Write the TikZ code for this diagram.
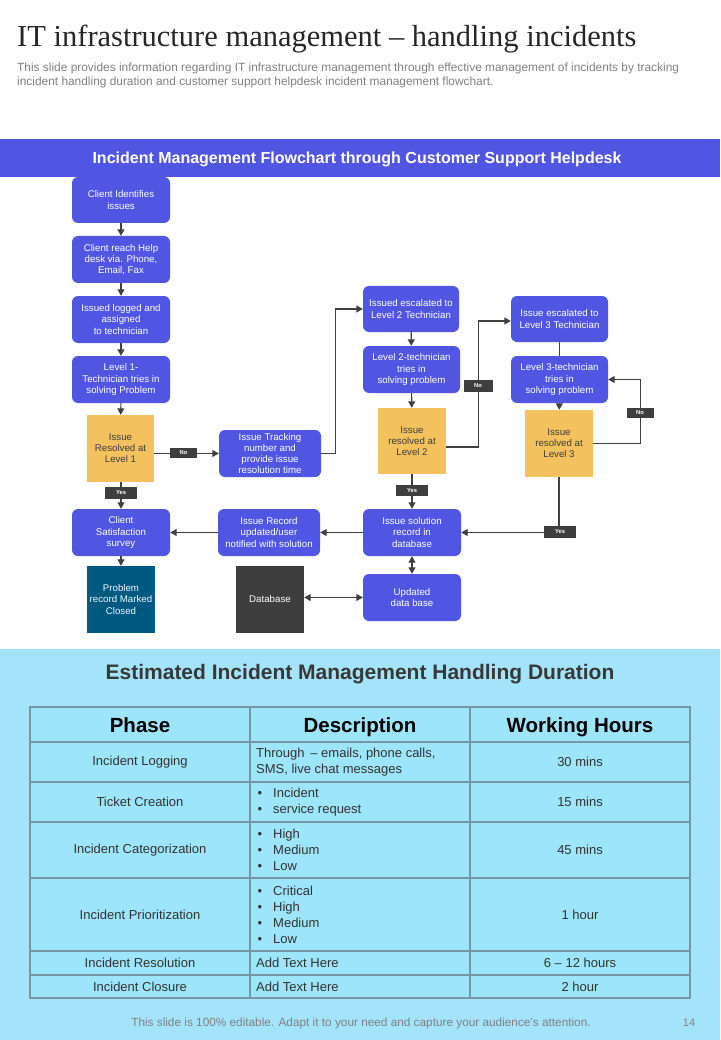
\documentclass[tikz,border=0pt]{standalone}
\usepackage{fontspec}
\setmainfont{Liberation Sans}
\newfontfamily\titlefont{Liberation Serif}
\usetikzlibrary{arrows.meta}
\definecolor{fblue}{RGB}{80,86,226}
\definecolor{fyellow}{RGB}{243,193,94}
\definecolor{fteal}{RGB}{0,89,128}
\definecolor{fdark}{RGB}{62,62,62}
\definecolor{lcol}{RGB}{64,64,64}
\definecolor{lblue}{RGB}{164,228,251}
\definecolor{tline}{RGB}{118,150,166}
\definecolor{subgray}{RGB}{128,128,128}
\definecolor{ttext}{RGB}{50,50,50}
\tikzset{
  x=1pt, y=-1pt,
  boxtxt/.style={font=\fontsize{9.7}{11.2}\selectfont, align=center, inner sep=0pt},
  bbox/.style={boxtxt, rectangle, rounded corners=6pt, fill=fblue, text=white, minimum width=98pt, minimum height=47pt},
  ybox/.style={boxtxt, rectangle, fill=fyellow, text=fdark, minimum width=68pt, minimum height=67pt},
  tbox/.style={boxtxt, rectangle, fill=fteal, text=white!92!cyan, minimum width=68pt, minimum height=67pt},
  dbox/.style={boxtxt, rectangle, fill=fdark, text=white, minimum width=68pt, minimum height=67pt},
  lbl/.style={rectangle, fill=fdark, text=white, font=\fontsize{5.8}{6}\selectfont\bfseries, inner sep=0pt, minimum width=30pt, minimum height=11pt},
  arr/.style={draw=lcol, line width=1.1pt, -{Triangle[length=6.5pt,width=7pt]}},
  darr/.style={draw=lcol, line width=1.1pt, {Triangle[length=6.5pt,width=7pt]}-{Triangle[length=6.5pt,width=7pt]}},
  plain/.style={draw=lcol, line width=1.1pt},
  cell/.style={font=\fontsize{13}{16}\selectfont, text=ttext, inner sep=0pt},
  hcell/.style={font=\fontsize{20.5}{24}\selectfont\bfseries, text=black, inner sep=0pt, anchor=base},
}
\begin{document}
\begin{tikzpicture}
\useasboundingbox (0,0) rectangle (720,1040);
\fill[white] (0,0) rectangle (720,1040);
% header
\node[anchor=base west, inner sep=0pt, font=\titlefont\fontsize{30.5}{32}\selectfont, text=black!85] (title) at (17,47) {IT infrastructure management – handling incidents};
\node[anchor=north west, inner sep=0pt, font=\fontsize{11.9}{14}\selectfont, text=subgray, align=left] (sub) at (17,62.5) {This slide provides information regarding IT infrastructure management through effective management of incidents by tracking\\incident handling duration and customer support helpdesk incident management flowchart.};
% banner
\fill[fblue] (0,139) rectangle (720,177);
\node[font=\fontsize{16}{18}\selectfont\bfseries, text=white, inner sep=0pt] (banner) at (357,159.5) {Incident Management Flowchart through Customer Support Helpdesk};
% lower section
\fill[lblue] (0,649) rectangle (720,1040);
% flowchart nodes
\node[bbox, minimum height=46pt] (n1) at (121,200) {Client Identifies\\issues};
\node[bbox] (n2) at (121,259.5) {Client reach Help\\desk via. Phone,\\Email, Fax};
\node[bbox] (n3) at (121,319.5) {Issued logged and\\assigned\\to technician};
\node[bbox] (n4) at (121,379.5) {Level 1-\\Technician tries in\\solving Problem};
\node[ybox, minimum width=67pt] (d1) at (120.5,448.5) {Issue\\Resolved at\\Level 1};
\node[bbox, minimum width=102pt] (n5) at (270,453.5) {Issue Tracking\\number and\\provide issue\\resolution time};
\node[bbox] (n6) at (121,532.5) {Client\\Satisfaction\\survey};
\node[bbox, minimum width=102pt] (n7) at (269,532.5) {Issue Record\\updated/user\\notified with solution};
\node[tbox] (closed) at (121,599.5) {Problem\\record Marked\\Closed};
\node[dbox] (db) at (270,599.5) {Database};
\node[bbox, minimum width=96pt, minimum height=46pt] (n8) at (411,309) {Issued escalated to\\Level 2 Technician};
\node[bbox, minimum width=97pt] (n9) at (411.5,369.5) {Level 2-technician\\tries in\\solving problem};
\node[ybox, minimum height=66pt] (d2) at (412,441) {Issue\\resolved at\\Level 2};
\node[bbox, minimum width=97pt, minimum height=46pt] (n10) at (559.5,319) {Issue escalated to\\Level 3 Technician};
\node[bbox, minimum width=97pt] (n11) at (559.5,379.5) {Level 3-technician\\tries in\\solving problem};
\node[ybox] (d3) at (559,443.5) {Issue\\resolved at\\Level 3};
\node[bbox] (n12) at (412,532.5) {Issue solution\\record in\\database};
\node[bbox] (n13) at (412,597.5) {Updated\\data base};
% connectors
\draw[arr] (n1) -- (n2);
\draw[arr] (n2) -- (n3);
\draw[arr] (n3) -- (n4);
\draw[arr] (n4) -- (d1);
\draw[arr] (d1.east |- n5.west) -- (n5.west);
\draw[arr] (n5.east) -- ++(14,0) |- (n8.west);
\draw[arr] (n8) -- (n9);
\draw[arr] (n9) -- (d2);
\draw[arr] ([yshift=-6pt]d2.east) -- ++(32,0) |- ([yshift=-2pt]n10.west);
\draw[plain] (n10) -- (n11);
\draw[arr] (n11) -- (d3);
\draw[arr] (d3.east) -- ++(47,0) |- (n11.east);
\draw[arr] (d3.south) |- (n12.east);
\draw[arr] (d2) -- (n12);
\draw[arr] (n12) -- (n7);
\draw[arr] (n7) -- (n6);
\draw[darr] (n12) -- (n13);
\draw[darr] (db.east |- n13.west) -- (n13.west);
\draw[arr] (d1.south -| n6.north) -- (n6.north);
\draw[arr] (n6) -- (closed);
% yes/no labels
\node[lbl, minimum width=27pt, minimum height=10pt] (noA) at (183.5,452.5) {No};
\node[lbl, minimum width=32pt, minimum height=12pt] (yesA) at (121,493) {Yes};
\node[lbl, minimum width=29pt, minimum height=12pt] (noB) at (478,386) {No};
\node[lbl, minimum width=32pt, minimum height=11pt] (yesB) at (412,490.5) {Yes};
\node[lbl, minimum width=27pt, minimum height=10pt] (noC) at (640,413) {No};
\node[lbl, minimum width=32pt, minimum height=12pt] (yesC) at (560,532) {Yes};
% table section
\node[font=\fontsize{21}{24}\selectfont\bfseries, text=black!78, inner sep=0pt] (ttitle) at (360,674.5) {Estimated Incident Management Handling Duration};
\fill[lblue!96!cyan] (30,707) rectangle (690,998);
\draw[tline, line width=1.3pt] (30,707) rectangle (690,998);
\foreach \yy in {742,782,822,878,951,975} \draw[tline, line width=1.3pt] (30,\yy) -- (690,\yy);
\foreach \xx in {250,470} \draw[tline, line width=1.3pt] (\xx,707) -- (\xx,998);
\node[hcell] (h1) at (140,732.5) {Phase};
\node[hcell] (h2) at (360,732.5) {Description};
\node[hcell] (h3) at (580,732.5) {Working Hours};
\node[cell] (p1) at (140,762) {Incident Logging};
\node[cell] (p2) at (140,802) {Ticket Creation};
\node[cell] (p3) at (140,850) {Incident Categorization};
\node[cell] (p4) at (140,914.5) {Incident Prioritization};
\node[cell] (p5) at (140,963) {Incident Resolution};
\node[cell] (p6) at (140,987) {Incident Closure};
\newcommand{\bul}[1]{\makebox[17pt][l]{\hspace{1.5pt}\textbullet}#1}
\node[cell, anchor=west, align=left] (e1) at (256,762) {Through \,– emails, phone calls,\\SMS, live chat messages};
\node[cell, anchor=west, align=left] (e2) at (256,802) {\bul{Incident}\\\bul{service request}};
\node[cell, anchor=west, align=left] (e3) at (256,850) {\bul{High}\\\bul{Medium}\\\bul{Low}};
\node[cell, anchor=west, align=left] (e4) at (256,914.5) {\bul{Critical}\\\bul{High}\\\bul{Medium}\\\bul{Low}};
\node[cell, anchor=west, align=left] (e5) at (256,963) {Add Text Here};
\node[cell, anchor=west, align=left] (e6) at (256,987) {Add Text Here};
\node[cell] (w1) at (580,762) {30 mins};
\node[cell] (w2) at (580,802) {15 mins};
\node[cell] (w3) at (580,850) {45 mins};
\node[cell] (w4) at (580,914.5) {1 hour};
\node[cell] (w5) at (580,963) {6 – 12 hours};
\node[cell] (w6) at (580,987) {2 hour};
% footer
\node[font=\fontsize{11.8}{13}\selectfont, text=subgray, inner sep=0pt] (foot) at (361,1023) {This slide is 100\% editable. Adapt it to your need and capture your audience’s attention.};
\node[font=\fontsize{11}{13}\selectfont, text=subgray, inner sep=0pt] (pg) at (689,1023) {14};
\end{tikzpicture}
\end{document}
